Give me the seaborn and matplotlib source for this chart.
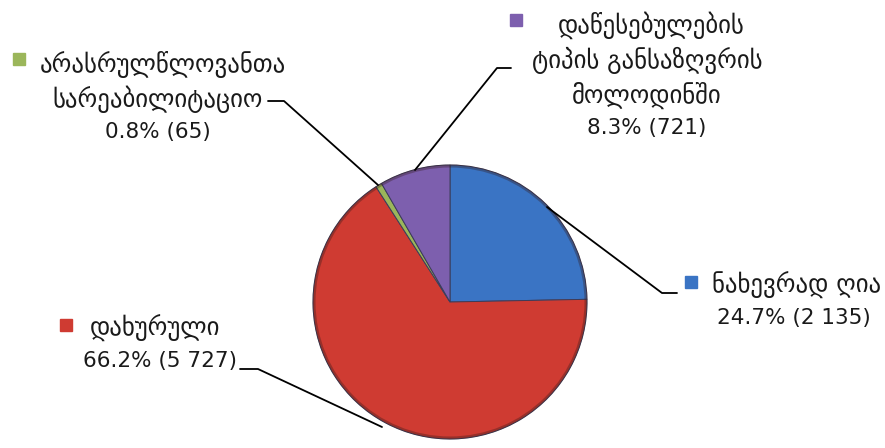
import numpy as np
import matplotlib.pyplot as plt
import seaborn as sns
from matplotlib.patches import Circle

# data (clockwise from 12 o'clock)
categories = ["ნახევრად ღია", "დახურული", "არასრულწლოვანთა\nსარეაბილიტაციო",
              "დაწესებულების\nტიპის განსაზღვრის\nმოლოდინში"]
counts = [2135, 5727, 65, 721]
colors = ["#3a74c4", "#cf3b32", "#9bb65a", "#7d5fae"]

sns.set_style("white")
plt.rcParams['font.family'] = ['DejaVu Sans']

W, H = 885, 448
fig = plt.figure(figsize=(W / 100, H / 100), dpi=100)
ax = fig.add_axes([0, 0, 1, 1])

def Y(y):
    # image pixel row -> axis coordinate
    return H - y

cx, cy, r = 450, Y(302), 137
wedges, _ = ax.pie(counts, colors=colors, startangle=90, counterclock=False,
                   center=(cx, cy), radius=r, frame=True,
                   wedgeprops=dict(edgecolor='#3c3c5a', linewidth=0.7))
# soft darker rim like the original's bevel
ax.add_patch(Circle((cx, cy), r - 1, fill=False, ec=(0.2, 0.1, 0.1, 0.35), lw=2.2))
ax.set_xlim(0, W)
ax.set_ylim(0, H)
ax.set_aspect('equal')
ax.axis('off')

total = sum(counts)

def fmt(v):
    return f"{100 * v / total:.1f}% ({v:,})".replace(",", " ")

# label layout: (first line left x, other lines center x, first line y,
#                marker x, marker y, leader path)
layout = [
    (712, 794, 285, 691, 282, [(547, 207), (662, 293), (677, 293)]),
    (90, 160, 328, 66, 325, [(382, 427), (258, 369), (240, 369)]),
    (40, 158, 64, 19, 59, [(378, 185), (284, 101), (268, 101)]),
    (558, 647, 25, 516, 20, [(415, 170), (497, 68), (511, 68)]),
]

fs_geo = 17.8
fs_num = 15.5
lh = 35
for cat, v, col, (lx, tx, ty, mx, my, path) in zip(categories, counts, colors, layout):
    lines = cat.split("\n")
    for i, ln in enumerate(lines):
        if i == 0:
            ax.text(lx, Y(ty), ln, ha='left', va='center', fontsize=fs_geo, color='#1a1a1a')
        else:
            ax.text(tx, Y(ty + i * lh), ln, ha='center', va='center',
                    fontsize=fs_geo, color='#1a1a1a')
    ax.text(tx, Y(ty + len(lines) * lh - 2), fmt(v), ha='center', va='center',
            fontsize=fs_num, color='#1a1a1a')
    ax.plot([mx], [Y(my)], marker='s', markersize=9, color=col,
            markeredgecolor=col, linestyle='none')
    xs = [p[0] for p in path]
    ys = [Y(p[1]) for p in path]
    ax.plot(xs, ys, color='black', linewidth=1.3)

fig.savefig("out.png", dpi=100)
